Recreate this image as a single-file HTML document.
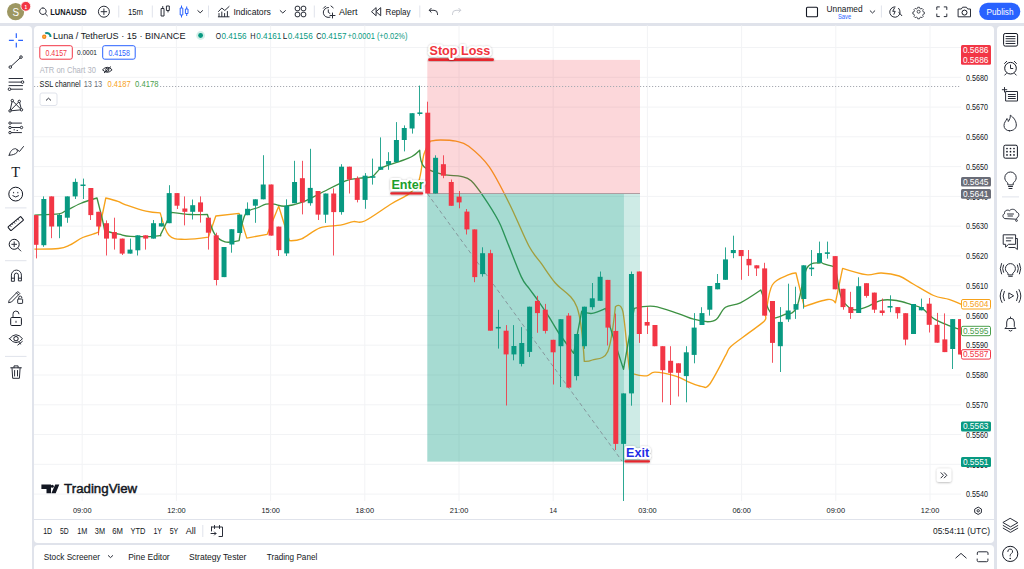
<!DOCTYPE html>
<html><head><meta charset="utf-8"><style>
*{margin:0;padding:0;box-sizing:border-box}
html,body{width:1024px;height:569px;overflow:hidden;background:#e0e3eb;font-family:"Liberation Sans",sans-serif;color:#131722}
.abs{position:absolute}
.panel{position:absolute;background:#fff}
.t{position:absolute;white-space:nowrap;line-height:1}
</style></head><body>
<div class="panel" style="left:0;top:0;width:1024px;height:23px"></div>
<div class="panel" style="left:0;top:25.5px;width:32px;height:544px;border-radius:0 4px 0 0"></div>
<div class="panel" style="left:34px;top:25.5px;width:960px;height:517px;border-radius:4px"></div>
<div class="abs" style="left:34px;top:519px;width:960px;height:1px;background:#e0e3eb"></div>
<div class="panel" style="left:34px;top:545px;width:960px;height:30px;border-radius:4px"></div>
<div class="panel" style="left:997px;top:25.5px;width:27px;height:544px;border-radius:4px 0 0 0"></div>
<svg class="abs" style="left:0;top:0" width="1024" height="569" viewBox="0 0 1024 569">
<defs><filter id="sh" x="-20%" y="-40%" width="140%" height="180%"><feDropShadow dx="0" dy="0.5" stdDeviation="0.8" flood-color="#000" flood-opacity="0.35"/></filter></defs>
<defs><clipPath id="pane"><rect x="34" y="25.5" width="927" height="475.5"/></clipPath></defs>
<g clip-path="url(#pane)">
<line x1="34" y1="17.8" x2="961" y2="17.8" stroke="#f2f3f5" stroke-width="1"/>
<line x1="34" y1="47.5" x2="961" y2="47.5" stroke="#f2f3f5" stroke-width="1"/>
<line x1="34" y1="77.3" x2="961" y2="77.3" stroke="#f2f3f5" stroke-width="1"/>
<line x1="34" y1="107.1" x2="961" y2="107.1" stroke="#f2f3f5" stroke-width="1"/>
<line x1="34" y1="136.8" x2="961" y2="136.8" stroke="#f2f3f5" stroke-width="1"/>
<line x1="34" y1="166.6" x2="961" y2="166.6" stroke="#f2f3f5" stroke-width="1"/>
<line x1="34" y1="196.4" x2="961" y2="196.4" stroke="#f2f3f5" stroke-width="1"/>
<line x1="34" y1="226.2" x2="961" y2="226.2" stroke="#f2f3f5" stroke-width="1"/>
<line x1="34" y1="255.9" x2="961" y2="255.9" stroke="#f2f3f5" stroke-width="1"/>
<line x1="34" y1="285.7" x2="961" y2="285.7" stroke="#f2f3f5" stroke-width="1"/>
<line x1="34" y1="315.5" x2="961" y2="315.5" stroke="#f2f3f5" stroke-width="1"/>
<line x1="34" y1="345.2" x2="961" y2="345.2" stroke="#f2f3f5" stroke-width="1"/>
<line x1="34" y1="375.0" x2="961" y2="375.0" stroke="#f2f3f5" stroke-width="1"/>
<line x1="34" y1="404.8" x2="961" y2="404.8" stroke="#f2f3f5" stroke-width="1"/>
<line x1="34" y1="434.5" x2="961" y2="434.5" stroke="#f2f3f5" stroke-width="1"/>
<line x1="34" y1="464.3" x2="961" y2="464.3" stroke="#f2f3f5" stroke-width="1"/>
<line x1="34" y1="494.1" x2="961" y2="494.1" stroke="#f2f3f5" stroke-width="1"/>
<line x1="82.2" y1="25" x2="82.2" y2="501" stroke="#f2f3f5" stroke-width="1"/>
<line x1="176.4" y1="25" x2="176.4" y2="501" stroke="#f2f3f5" stroke-width="1"/>
<line x1="270.6" y1="25" x2="270.6" y2="501" stroke="#f2f3f5" stroke-width="1"/>
<line x1="364.8" y1="25" x2="364.8" y2="501" stroke="#f2f3f5" stroke-width="1"/>
<line x1="459.0" y1="25" x2="459.0" y2="501" stroke="#f2f3f5" stroke-width="1"/>
<line x1="553.2" y1="25" x2="553.2" y2="501" stroke="#f2f3f5" stroke-width="1"/>
<line x1="647.4" y1="25" x2="647.4" y2="501" stroke="#f2f3f5" stroke-width="1"/>
<line x1="741.6" y1="25" x2="741.6" y2="501" stroke="#f2f3f5" stroke-width="1"/>
<line x1="835.8" y1="25" x2="835.8" y2="501" stroke="#f2f3f5" stroke-width="1"/>
<line x1="930.0" y1="25" x2="930.0" y2="501" stroke="#f2f3f5" stroke-width="1"/>
<path d="M34.4 249.2 C38.4 249.1 52.7 249.2 58.6 248.5 C64.5 247.8 65.6 247.0 69.6 245.2 C73.6 243.4 78.1 239.6 82.7 237.5 C87.3 235.4 94.2 234.2 97.0 232.7 C99.8 231.2 97.7 234.5 99.2 228.7 C100.7 222.9 105.8 198.0 105.8 198.0 C105.8 198.0 114.7 200.2 117.9 201.3 C121.1 202.4 120.3 202.9 125.0 204.6 C129.7 206.2 140.0 209.8 145.9 211.2 C151.8 212.6 160.2 212.9 160.2 212.9 C160.2 212.9 165.0 230.9 169.0 235.3 C173.0 239.7 177.7 239.0 184.3 239.3 C190.9 239.6 208.5 237.1 208.5 237.1 C208.5 237.1 215.8 216.0 215.8 216.0 C215.8 216.0 239.1 213.4 239.1 213.4 C239.1 213.4 246.8 238.1 246.8 238.1 C246.8 238.1 267.2 234.3 267.2 234.3 C267.2 234.3 278.7 206.2 278.7 206.2 C278.7 206.2 289.4 240.7 289.4 240.7 C289.4 240.7 296.5 241.0 301.6 238.9 C306.7 236.8 313.5 230.2 320.0 227.9 C326.5 225.6 334.9 226.2 340.5 225.2 C346.1 224.1 349.3 222.3 353.3 221.6 C357.3 220.9 358.3 224.0 364.7 221.0 C371.1 218.0 384.1 208.3 391.5 203.7 C398.9 199.1 404.8 197.3 409.4 193.5 C414.0 189.7 416.5 187.4 418.9 180.8 C421.3 174.2 422.1 160.6 424.0 154.0 C425.9 147.4 430.4 141.2 430.4 141.2 C430.4 141.2 436.4 140.0 440.6 140.0 C444.9 140.0 451.2 140.1 455.9 141.2 C460.6 142.2 463.2 142.1 468.7 146.3 C474.2 150.6 482.2 156.9 489.1 166.7 C496.0 176.5 503.4 191.8 510.0 205.0 C516.6 218.2 523.6 236.2 528.9 246.0 C534.2 255.8 537.2 257.7 541.6 263.9 C546.0 270.1 549.4 275.8 555.3 283.0 C561.2 290.2 572.2 294.1 577.0 307.2 C581.8 320.3 584.3 361.4 584.3 361.4 C584.3 361.4 588.4 361.7 592.3 360.0 C596.2 358.3 603.9 360.3 607.8 351.4 C611.6 342.5 615.4 306.8 615.4 306.8 C615.4 306.8 620.5 301.2 622.9 311.7 C625.2 322.2 627.6 359.6 629.5 370.0 C631.4 380.4 631.4 373.2 634.3 374.2 C637.1 375.2 643.1 376.1 646.6 375.8 C650.1 375.5 650.1 372.1 655.0 372.2 C659.9 372.2 669.9 374.4 675.7 376.1 C681.5 377.8 685.5 380.7 689.7 382.4 C694.0 384.1 697.9 385.9 701.2 386.3 C704.5 386.7 705.4 389.6 709.4 384.5 C713.4 379.4 722.0 362.0 725.5 355.7 C729.0 349.4 726.8 350.4 730.6 346.7 C734.4 343.0 742.4 337.7 748.1 333.4 C753.8 329.1 761.6 324.1 764.6 320.7 C767.6 317.3 764.6 318.9 765.9 313.0 C767.2 307.1 768.5 291.4 772.3 285.0 C776.1 278.6 784.9 276.7 788.9 274.7 C792.9 272.7 796.0 273.0 796.0 273.0 C796.0 273.0 804.2 306.6 804.2 306.6 C804.2 306.6 822.6 300.1 827.8 299.5 C833.0 298.9 835.4 302.8 835.4 302.8 C835.4 302.8 842.6 268.4 842.6 268.4 C842.6 268.4 859.5 273.9 866.0 274.7 C872.5 275.5 875.8 272.8 881.3 273.0 C886.8 273.2 893.9 274.2 899.2 276.0 C904.5 277.8 907.5 280.8 913.2 284.0 C918.9 287.2 927.7 292.9 933.6 295.5 C939.5 298.1 944.2 297.8 948.9 299.3 C953.6 300.8 959.5 303.5 961.6 304.4" fill="none" stroke="#f7a21b" stroke-width="1.35" stroke-linejoin="round"/>
<path d="M34.4 215.1 C38.4 214.9 53.5 214.5 58.6 213.8 C63.7 213.2 61.6 212.9 65.2 211.2 C68.9 209.5 75.2 205.7 80.5 203.5 C85.8 201.3 97.0 198.0 97.0 198.0 C97.0 198.0 101.2 214.5 102.5 220.0 C103.8 225.5 104.7 231.0 104.7 231.0 C104.7 231.0 114.7 233.3 119.0 234.2 C123.3 235.1 124.0 236.1 130.5 236.4 C137.0 236.7 152.9 236.4 158.0 235.8 C163.1 235.2 159.1 237.0 161.3 233.1 C163.5 229.2 171.2 212.3 171.2 212.3 C171.2 212.3 185.0 214.1 191.0 214.5 C197.0 214.9 207.4 214.5 207.4 214.5 C207.4 214.5 211.8 229.6 214.7 234.2 C217.6 238.8 220.9 240.8 225.0 241.9 C229.1 243.0 239.1 240.7 239.1 240.7 C239.1 240.7 242.3 219.4 245.5 213.9 C248.7 208.4 254.9 209.1 258.3 207.5 C261.7 205.9 263.3 204.8 265.9 204.2 C268.5 203.6 270.8 203.9 274.0 204.2 C277.2 204.5 280.4 206.5 285.0 206.2 C289.6 205.9 295.8 204.5 301.6 202.4 C307.4 200.3 312.7 197.1 320.0 193.5 C327.3 189.9 339.0 183.4 345.6 180.8 C352.2 178.2 355.1 178.9 359.6 178.2 C364.1 177.5 368.8 178.1 372.4 176.4 C376.0 174.7 376.8 170.5 381.3 168.0 C385.8 165.5 394.1 163.5 399.2 161.6 C404.3 159.7 408.6 158.4 412.0 156.5 C415.4 154.6 419.7 150.2 419.7 150.2 C419.7 150.2 420.1 162.7 424.0 166.7 C427.9 170.7 437.0 172.8 443.2 174.4 C449.4 176.0 456.3 175.3 461.0 176.4 C465.7 177.5 467.4 177.3 471.2 180.8 C475.0 184.3 479.5 190.7 484.0 197.3 C488.5 203.9 494.7 213.7 498.3 220.5 C501.9 227.3 502.1 229.1 505.9 238.4 C509.7 247.8 517.4 268.3 521.2 276.6 C525.0 284.9 525.9 283.9 528.9 288.1 C531.9 292.4 535.7 297.2 539.1 302.1 C542.5 307.0 546.0 312.2 549.3 317.4 C552.6 322.6 555.0 327.5 559.1 333.5 C563.2 339.5 573.7 353.3 573.7 353.3 C573.7 353.3 581.7 311.1 581.7 311.1 C581.7 311.1 588.0 313.8 592.0 313.4 C596.0 312.9 605.7 308.4 605.7 308.4 C605.7 308.4 607.2 317.0 610.2 327.1 C613.2 337.2 623.5 369.3 623.5 369.3 C623.5 369.3 634.2 308.4 634.2 308.4 C634.2 308.4 646.6 305.5 654.0 306.4 C661.4 307.3 671.7 311.5 678.3 313.6 C684.9 315.7 688.7 317.9 693.6 319.2 C698.5 320.5 703.8 321.7 707.6 321.7 C711.4 321.7 713.5 321.6 716.5 319.2 C719.5 316.8 721.5 309.9 725.5 307.2 C729.5 304.5 734.5 305.7 740.4 302.8 C746.3 299.9 760.8 290.0 760.8 290.0 C760.8 290.0 766.2 304.5 768.5 309.2 C770.8 313.9 774.8 318.1 774.8 318.1 C774.8 318.1 780.2 316.5 783.8 314.8 C787.4 313.1 792.7 315.6 796.5 307.9 C800.3 300.2 802.8 275.9 806.7 268.4 C810.6 260.9 817.1 263.6 820.0 262.8 C822.9 262.0 821.3 263.1 823.9 263.8 C826.5 264.5 835.4 267.1 835.4 267.1 C835.4 267.1 839.0 289.2 840.5 295.2 C842.0 301.1 842.2 300.4 844.3 302.8 C846.4 305.2 849.7 309.0 853.3 309.7 C856.9 310.4 861.3 308.7 866.0 307.1 C870.7 305.5 876.2 301.4 881.3 300.3 C886.4 299.2 891.7 299.8 896.6 300.5 C901.5 301.2 906.4 303.1 910.6 304.4 C914.9 305.7 918.3 305.9 922.1 308.3 C925.9 310.7 929.1 315.6 933.6 318.5 C938.1 321.4 944.2 323.7 948.9 325.6 C953.6 327.5 959.5 329.3 961.6 330.0" fill="none" stroke="#3d9142" stroke-width="1.35" stroke-linejoin="round"/>
<rect x="427.3" y="59.9" width="212.7" height="133.6" fill="rgba(242,54,69,0.2)"/>
<rect x="427.3" y="193.5" width="212.7" height="268.1" fill="rgba(8,153,129,0.2)"/>
<rect x="427.3" y="193.5" width="196.6" height="268.1" fill="rgba(8,153,129,0.2)"/>
<line x1="427.3" y1="193.5" x2="640" y2="193.5" stroke="#b09ba0" stroke-width="1"/>
<line x1="34" y1="86.5" x2="961" y2="86.5" stroke="#a8abb3" stroke-width="1" stroke-dasharray="1.2 1.8"/>
<line x1="427.3" y1="193.5" x2="622" y2="461" stroke="#787b86" stroke-width="1" stroke-dasharray="4 3" opacity="0.7"/>
<line x1="36.50" y1="215.0" x2="36.50" y2="258.4" stroke="#f23645" stroke-width="1" opacity="0.85"/>
<rect x="33.50" y="215.1" width="5.0" height="29.7" fill="#f23645"/>
<line x1="43.50" y1="196.4" x2="43.50" y2="246.8" stroke="#089981" stroke-width="1" opacity="0.85"/>
<rect x="41.34" y="199.0" width="5.0" height="46.2" fill="#089981"/>
<line x1="51.50" y1="196.4" x2="51.50" y2="238.2" stroke="#f23645" stroke-width="1" opacity="0.85"/>
<rect x="49.17" y="196.4" width="5.0" height="30.1" fill="#f23645"/>
<line x1="59.50" y1="214.0" x2="59.50" y2="238.2" stroke="#089981" stroke-width="1" opacity="0.85"/>
<rect x="57.00" y="214.9" width="5.0" height="11.6" fill="#089981"/>
<line x1="67.50" y1="196.4" x2="67.50" y2="222.8" stroke="#089981" stroke-width="1" opacity="0.85"/>
<rect x="64.84" y="196.4" width="5.0" height="21.3" fill="#089981"/>
<line x1="75.50" y1="178.6" x2="75.50" y2="199.0" stroke="#089981" stroke-width="1" opacity="0.85"/>
<rect x="72.67" y="181.9" width="5.0" height="14.5" fill="#089981"/>
<line x1="83.50" y1="178.6" x2="83.50" y2="199.0" stroke="#089981" stroke-width="1" opacity="0.85"/>
<rect x="80.51" y="184.5" width="5.0" height="1.5" fill="#089981"/>
<line x1="90.50" y1="188.0" x2="90.50" y2="220.0" stroke="#f23645" stroke-width="1" opacity="0.85"/>
<rect x="88.34" y="188.0" width="5.0" height="27.1" fill="#f23645"/>
<line x1="98.50" y1="211.8" x2="98.50" y2="235.3" stroke="#f23645" stroke-width="1" opacity="0.85"/>
<rect x="96.18" y="211.8" width="5.0" height="14.7" fill="#f23645"/>
<line x1="106.50" y1="220.4" x2="106.50" y2="255.5" stroke="#f23645" stroke-width="1" opacity="0.85"/>
<rect x="104.02" y="223.2" width="5.0" height="15.4" fill="#f23645"/>
<line x1="114.50" y1="217.7" x2="114.50" y2="249.6" stroke="#f23645" stroke-width="1" opacity="0.85"/>
<rect x="111.85" y="232.0" width="5.0" height="6.6" fill="#f23645"/>
<line x1="122.50" y1="238.6" x2="122.50" y2="255.0" stroke="#f23645" stroke-width="1" opacity="0.85"/>
<rect x="119.69" y="238.6" width="5.0" height="15.0" fill="#f23645"/>
<line x1="130.50" y1="238.6" x2="130.50" y2="253.6" stroke="#089981" stroke-width="1" opacity="0.85"/>
<rect x="127.52" y="249.6" width="5.0" height="4.0" fill="#089981"/>
<line x1="137.50" y1="235.3" x2="137.50" y2="255.5" stroke="#089981" stroke-width="1" opacity="0.85"/>
<rect x="135.36" y="235.3" width="5.0" height="15.0" fill="#089981"/>
<line x1="145.50" y1="235.3" x2="145.50" y2="249.6" stroke="#f23645" stroke-width="1" opacity="0.85"/>
<rect x="143.19" y="235.3" width="5.0" height="3.3" fill="#f23645"/>
<line x1="153.50" y1="220.0" x2="153.50" y2="238.6" stroke="#089981" stroke-width="1" opacity="0.85"/>
<rect x="151.03" y="223.2" width="5.0" height="15.4" fill="#089981"/>
<line x1="161.50" y1="217.3" x2="161.50" y2="226.5" stroke="#089981" stroke-width="1" opacity="0.85"/>
<rect x="158.86" y="223.2" width="5.0" height="3.3" fill="#089981"/>
<line x1="169.50" y1="185.2" x2="169.50" y2="223.2" stroke="#089981" stroke-width="1" opacity="0.85"/>
<rect x="166.69" y="193.1" width="5.0" height="30.1" fill="#089981"/>
<line x1="177.50" y1="193.1" x2="177.50" y2="209.0" stroke="#f23645" stroke-width="1" opacity="0.85"/>
<rect x="174.53" y="193.1" width="5.0" height="12.6" fill="#f23645"/>
<line x1="184.50" y1="196.4" x2="184.50" y2="225.4" stroke="#f23645" stroke-width="1" opacity="0.85"/>
<rect x="182.37" y="208.5" width="5.0" height="3.3" fill="#f23645"/>
<line x1="192.50" y1="199.5" x2="192.50" y2="219.5" stroke="#089981" stroke-width="1" opacity="0.85"/>
<rect x="190.20" y="205.2" width="5.0" height="6.6" fill="#089981"/>
<line x1="200.50" y1="196.4" x2="200.50" y2="222.6" stroke="#f23645" stroke-width="1" opacity="0.85"/>
<rect x="198.03" y="202.4" width="5.0" height="9.4" fill="#f23645"/>
<line x1="208.50" y1="217.7" x2="208.50" y2="249.6" stroke="#f23645" stroke-width="1" opacity="0.85"/>
<rect x="205.87" y="217.7" width="5.0" height="15.0" fill="#f23645"/>
<line x1="216.50" y1="232.7" x2="216.50" y2="285.4" stroke="#f23645" stroke-width="1" opacity="0.85"/>
<rect x="213.71" y="235.3" width="5.0" height="44.7" fill="#f23645"/>
<line x1="224.50" y1="247.0" x2="224.50" y2="277.1" stroke="#089981" stroke-width="1" opacity="0.85"/>
<rect x="221.54" y="247.0" width="5.0" height="30.1" fill="#089981"/>
<line x1="231.50" y1="229.2" x2="231.50" y2="252.7" stroke="#089981" stroke-width="1" opacity="0.85"/>
<rect x="229.38" y="229.2" width="5.0" height="15.3" fill="#089981"/>
<line x1="239.50" y1="214.6" x2="239.50" y2="233.0" stroke="#089981" stroke-width="1" opacity="0.85"/>
<rect x="237.21" y="214.6" width="5.0" height="18.4" fill="#089981"/>
<line x1="247.50" y1="202.4" x2="247.50" y2="215.2" stroke="#089981" stroke-width="1" opacity="0.85"/>
<rect x="245.04" y="208.8" width="5.0" height="6.4" fill="#089981"/>
<line x1="255.50" y1="199.3" x2="255.50" y2="222.8" stroke="#089981" stroke-width="1" opacity="0.85"/>
<rect x="252.88" y="199.3" width="5.0" height="6.4" fill="#089981"/>
<line x1="263.50" y1="155.2" x2="263.50" y2="199.3" stroke="#089981" stroke-width="1" opacity="0.85"/>
<rect x="260.72" y="184.5" width="5.0" height="14.8" fill="#089981"/>
<line x1="271.50" y1="184.5" x2="271.50" y2="235.6" stroke="#f23645" stroke-width="1" opacity="0.85"/>
<rect x="268.55" y="184.5" width="5.0" height="51.1" fill="#f23645"/>
<line x1="278.50" y1="226.6" x2="278.50" y2="256.0" stroke="#f23645" stroke-width="1" opacity="0.85"/>
<rect x="276.38" y="226.6" width="5.0" height="23.5" fill="#f23645"/>
<line x1="286.50" y1="199.3" x2="286.50" y2="256.0" stroke="#089981" stroke-width="1" opacity="0.85"/>
<rect x="284.22" y="205.7" width="5.0" height="47.7" fill="#089981"/>
<line x1="294.50" y1="160.8" x2="294.50" y2="203.2" stroke="#089981" stroke-width="1" opacity="0.85"/>
<rect x="292.06" y="182.0" width="5.0" height="21.2" fill="#089981"/>
<line x1="302.50" y1="160.8" x2="302.50" y2="214.4" stroke="#f23645" stroke-width="1" opacity="0.85"/>
<rect x="299.89" y="178.2" width="5.0" height="24.2" fill="#f23645"/>
<line x1="310.50" y1="148.8" x2="310.50" y2="205.7" stroke="#089981" stroke-width="1" opacity="0.85"/>
<rect x="307.73" y="187.9" width="5.0" height="15.3" fill="#089981"/>
<line x1="318.50" y1="191.0" x2="318.50" y2="220.0" stroke="#f23645" stroke-width="1" opacity="0.85"/>
<rect x="315.56" y="191.0" width="5.0" height="23.6" fill="#f23645"/>
<line x1="325.50" y1="193.5" x2="325.50" y2="222.9" stroke="#089981" stroke-width="1" opacity="0.85"/>
<rect x="323.39" y="193.5" width="5.0" height="21.2" fill="#089981"/>
<line x1="333.50" y1="188.4" x2="333.50" y2="255.5" stroke="#f23645" stroke-width="1" opacity="0.85"/>
<rect x="331.23" y="193.5" width="5.0" height="18.6" fill="#f23645"/>
<line x1="341.50" y1="164.2" x2="341.50" y2="214.7" stroke="#089981" stroke-width="1" opacity="0.85"/>
<rect x="339.06" y="166.7" width="5.0" height="45.4" fill="#089981"/>
<line x1="349.50" y1="166.7" x2="349.50" y2="193.5" stroke="#f23645" stroke-width="1" opacity="0.85"/>
<rect x="346.90" y="166.7" width="5.0" height="12.8" fill="#f23645"/>
<line x1="357.50" y1="176.4" x2="357.50" y2="202.4" stroke="#f23645" stroke-width="1" opacity="0.85"/>
<rect x="354.74" y="178.2" width="5.0" height="21.7" fill="#f23645"/>
<line x1="365.50" y1="173.1" x2="365.50" y2="208.8" stroke="#089981" stroke-width="1" opacity="0.85"/>
<rect x="362.57" y="175.7" width="5.0" height="24.2" fill="#089981"/>
<line x1="372.50" y1="158.6" x2="372.50" y2="184.6" stroke="#089981" stroke-width="1" opacity="0.85"/>
<rect x="370.40" y="176.2" width="5.0" height="1.6" fill="#089981"/>
<line x1="380.50" y1="137.4" x2="380.50" y2="169.8" stroke="#089981" stroke-width="1" opacity="0.85"/>
<rect x="378.24" y="166.7" width="5.0" height="3.1" fill="#089981"/>
<line x1="388.50" y1="152.2" x2="388.50" y2="169.8" stroke="#089981" stroke-width="1" opacity="0.85"/>
<rect x="386.07" y="161.1" width="5.0" height="3.6" fill="#089981"/>
<line x1="396.50" y1="122.1" x2="396.50" y2="162.1" stroke="#089981" stroke-width="1" opacity="0.85"/>
<rect x="393.91" y="140.0" width="5.0" height="22.1" fill="#089981"/>
<line x1="404.50" y1="125.4" x2="404.50" y2="151.4" stroke="#089981" stroke-width="1" opacity="0.85"/>
<rect x="401.75" y="128.0" width="5.0" height="12.0" fill="#089981"/>
<line x1="412.50" y1="113.2" x2="412.50" y2="133.6" stroke="#089981" stroke-width="1" opacity="0.85"/>
<rect x="409.58" y="113.2" width="5.0" height="15.3" fill="#089981"/>
<line x1="419.50" y1="85.6" x2="419.50" y2="115.7" stroke="#089981" stroke-width="1" opacity="0.85"/>
<rect x="417.42" y="112.4" width="5.0" height="1.6" fill="#089981"/>
<line x1="427.50" y1="101.7" x2="427.50" y2="193.5" stroke="#f23645" stroke-width="1" opacity="0.85"/>
<rect x="425.25" y="112.7" width="5.0" height="80.8" fill="#f23645"/>
<line x1="435.50" y1="155.3" x2="435.50" y2="193.5" stroke="#089981" stroke-width="1" opacity="0.85"/>
<rect x="433.08" y="157.8" width="5.0" height="35.7" fill="#089981"/>
<line x1="443.50" y1="155.3" x2="443.50" y2="178.2" stroke="#f23645" stroke-width="1" opacity="0.85"/>
<rect x="440.92" y="164.2" width="5.0" height="11.5" fill="#f23645"/>
<line x1="451.50" y1="179.5" x2="451.50" y2="205.8" stroke="#f23645" stroke-width="1" opacity="0.85"/>
<rect x="448.75" y="182.0" width="5.0" height="23.8" fill="#f23645"/>
<line x1="459.50" y1="191.0" x2="459.50" y2="208.3" stroke="#f23645" stroke-width="1" opacity="0.85"/>
<rect x="456.59" y="196.6" width="5.0" height="5.8" fill="#f23645"/>
<line x1="466.50" y1="209.0" x2="466.50" y2="234.5" stroke="#f23645" stroke-width="1" opacity="0.85"/>
<rect x="464.43" y="211.6" width="5.0" height="17.8" fill="#f23645"/>
<line x1="474.50" y1="229.4" x2="474.50" y2="282.2" stroke="#f23645" stroke-width="1" opacity="0.85"/>
<rect x="472.26" y="229.4" width="5.0" height="47.7" fill="#f23645"/>
<line x1="482.50" y1="247.3" x2="482.50" y2="276.6" stroke="#089981" stroke-width="1" opacity="0.85"/>
<rect x="480.09" y="253.2" width="5.0" height="20.9" fill="#089981"/>
<line x1="490.50" y1="249.8" x2="490.50" y2="330.7" stroke="#f23645" stroke-width="1" opacity="0.85"/>
<rect x="487.93" y="253.2" width="5.0" height="77.5" fill="#f23645"/>
<line x1="498.50" y1="309.8" x2="498.50" y2="348.6" stroke="#089981" stroke-width="1" opacity="0.85"/>
<rect x="495.76" y="326.9" width="5.0" height="1.6" fill="#089981"/>
<line x1="506.50" y1="325.1" x2="506.50" y2="405.5" stroke="#f23645" stroke-width="1" opacity="0.85"/>
<rect x="503.60" y="330.7" width="5.0" height="23.7" fill="#f23645"/>
<line x1="513.50" y1="325.1" x2="513.50" y2="360.3" stroke="#089981" stroke-width="1" opacity="0.85"/>
<rect x="511.43" y="346.0" width="5.0" height="8.4" fill="#089981"/>
<line x1="521.50" y1="327.1" x2="521.50" y2="366.4" stroke="#089981" stroke-width="1" opacity="0.85"/>
<rect x="519.27" y="343.0" width="5.0" height="20.9" fill="#089981"/>
<line x1="529.50" y1="306.7" x2="529.50" y2="357.0" stroke="#089981" stroke-width="1" opacity="0.85"/>
<rect x="527.11" y="306.7" width="5.0" height="45.2" fill="#089981"/>
<line x1="537.50" y1="295.8" x2="537.50" y2="332.8" stroke="#f23645" stroke-width="1" opacity="0.85"/>
<rect x="534.94" y="300.9" width="5.0" height="12.2" fill="#f23645"/>
<line x1="545.50" y1="303.9" x2="545.50" y2="333.5" stroke="#f23645" stroke-width="1" opacity="0.85"/>
<rect x="542.77" y="309.7" width="5.0" height="21.2" fill="#f23645"/>
<line x1="553.50" y1="339.8" x2="553.50" y2="384.5" stroke="#f23645" stroke-width="1" opacity="0.85"/>
<rect x="550.61" y="339.8" width="5.0" height="12.5" fill="#f23645"/>
<line x1="560.50" y1="319.2" x2="560.50" y2="387.0" stroke="#089981" stroke-width="1" opacity="0.85"/>
<rect x="558.45" y="319.2" width="5.0" height="27.0" fill="#089981"/>
<line x1="568.50" y1="313.1" x2="568.50" y2="387.6" stroke="#f23645" stroke-width="1" opacity="0.85"/>
<rect x="566.28" y="315.6" width="5.0" height="72.0" fill="#f23645"/>
<line x1="576.50" y1="334.0" x2="576.50" y2="380.4" stroke="#089981" stroke-width="1" opacity="0.85"/>
<rect x="574.12" y="334.0" width="5.0" height="42.1" fill="#089981"/>
<line x1="584.50" y1="306.7" x2="584.50" y2="348.8" stroke="#089981" stroke-width="1" opacity="0.85"/>
<rect x="581.95" y="306.7" width="5.0" height="39.5" fill="#089981"/>
<line x1="592.50" y1="283.0" x2="592.50" y2="309.7" stroke="#089981" stroke-width="1" opacity="0.85"/>
<rect x="589.78" y="298.3" width="5.0" height="8.9" fill="#089981"/>
<line x1="600.50" y1="271.5" x2="600.50" y2="300.8" stroke="#089981" stroke-width="1" opacity="0.85"/>
<rect x="597.62" y="276.8" width="5.0" height="24.0" fill="#089981"/>
<line x1="607.50" y1="279.9" x2="607.50" y2="345.5" stroke="#f23645" stroke-width="1" opacity="0.85"/>
<rect x="605.46" y="279.9" width="5.0" height="47.7" fill="#f23645"/>
<line x1="615.50" y1="313.6" x2="615.50" y2="450.0" stroke="#f23645" stroke-width="1" opacity="0.85"/>
<rect x="613.29" y="330.9" width="5.0" height="113.0" fill="#f23645"/>
<line x1="623.50" y1="393.4" x2="623.50" y2="501.8" stroke="#089981" stroke-width="1" opacity="0.85"/>
<rect x="621.12" y="393.4" width="5.0" height="50.5" fill="#089981"/>
<line x1="631.50" y1="271.5" x2="631.50" y2="405.7" stroke="#089981" stroke-width="1" opacity="0.85"/>
<rect x="628.96" y="274.0" width="5.0" height="119.4" fill="#089981"/>
<line x1="639.50" y1="271.5" x2="639.50" y2="342.9" stroke="#f23645" stroke-width="1" opacity="0.85"/>
<rect x="636.79" y="271.5" width="5.0" height="62.5" fill="#f23645"/>
<line x1="647.50" y1="307.2" x2="647.50" y2="334.0" stroke="#f23645" stroke-width="1" opacity="0.85"/>
<rect x="644.63" y="322.0" width="5.0" height="3.6" fill="#f23645"/>
<line x1="654.50" y1="325.0" x2="654.50" y2="346.2" stroke="#f23645" stroke-width="1" opacity="0.85"/>
<rect x="652.47" y="325.0" width="5.0" height="21.2" fill="#f23645"/>
<line x1="662.50" y1="346.2" x2="662.50" y2="402.3" stroke="#f23645" stroke-width="1" opacity="0.85"/>
<rect x="660.30" y="346.2" width="5.0" height="24.0" fill="#f23645"/>
<line x1="670.50" y1="346.2" x2="670.50" y2="405.0" stroke="#f23645" stroke-width="1" opacity="0.85"/>
<rect x="668.13" y="360.8" width="5.0" height="12.0" fill="#f23645"/>
<line x1="678.50" y1="363.3" x2="678.50" y2="396.5" stroke="#f23645" stroke-width="1" opacity="0.85"/>
<rect x="675.97" y="363.3" width="5.0" height="9.5" fill="#f23645"/>
<line x1="686.50" y1="346.2" x2="686.50" y2="402.3" stroke="#089981" stroke-width="1" opacity="0.85"/>
<rect x="683.80" y="352.3" width="5.0" height="23.8" fill="#089981"/>
<line x1="694.50" y1="313.1" x2="694.50" y2="363.3" stroke="#089981" stroke-width="1" opacity="0.85"/>
<rect x="691.64" y="327.6" width="5.0" height="27.3" fill="#089981"/>
<line x1="701.50" y1="307.2" x2="701.50" y2="325.0" stroke="#089981" stroke-width="1" opacity="0.85"/>
<rect x="699.48" y="313.1" width="5.0" height="11.9" fill="#089981"/>
<line x1="709.50" y1="286.0" x2="709.50" y2="315.6" stroke="#089981" stroke-width="1" opacity="0.85"/>
<rect x="707.31" y="286.0" width="5.0" height="23.7" fill="#089981"/>
<line x1="717.50" y1="274.0" x2="717.50" y2="289.3" stroke="#089981" stroke-width="1" opacity="0.85"/>
<rect x="715.14" y="283.0" width="5.0" height="6.3" fill="#089981"/>
<line x1="725.50" y1="247.4" x2="725.50" y2="279.8" stroke="#089981" stroke-width="1" opacity="0.85"/>
<rect x="722.98" y="259.4" width="5.0" height="20.4" fill="#089981"/>
<line x1="733.50" y1="235.7" x2="733.50" y2="258.2" stroke="#089981" stroke-width="1" opacity="0.85"/>
<rect x="730.81" y="250.0" width="5.0" height="3.1" fill="#089981"/>
<line x1="741.50" y1="250.0" x2="741.50" y2="279.8" stroke="#f23645" stroke-width="1" opacity="0.85"/>
<rect x="738.65" y="250.0" width="5.0" height="6.1" fill="#f23645"/>
<line x1="748.50" y1="250.0" x2="748.50" y2="276.0" stroke="#f23645" stroke-width="1" opacity="0.85"/>
<rect x="746.49" y="258.9" width="5.0" height="6.4" fill="#f23645"/>
<line x1="756.50" y1="265.3" x2="756.50" y2="276.0" stroke="#f23645" stroke-width="1" opacity="0.85"/>
<rect x="754.32" y="265.3" width="5.0" height="3.1" fill="#f23645"/>
<line x1="764.50" y1="262.8" x2="764.50" y2="315.6" stroke="#f23645" stroke-width="1" opacity="0.85"/>
<rect x="762.15" y="268.4" width="5.0" height="47.2" fill="#f23645"/>
<line x1="772.50" y1="301.0" x2="772.50" y2="362.8" stroke="#f23645" stroke-width="1" opacity="0.85"/>
<rect x="769.99" y="301.0" width="5.0" height="41.9" fill="#f23645"/>
<line x1="780.50" y1="307.1" x2="780.50" y2="372.0" stroke="#089981" stroke-width="1" opacity="0.85"/>
<rect x="777.83" y="321.9" width="5.0" height="24.3" fill="#089981"/>
<line x1="788.50" y1="283.7" x2="788.50" y2="321.9" stroke="#089981" stroke-width="1" opacity="0.85"/>
<rect x="785.66" y="310.5" width="5.0" height="8.9" fill="#089981"/>
<line x1="795.50" y1="286.7" x2="795.50" y2="318.9" stroke="#089981" stroke-width="1" opacity="0.85"/>
<rect x="793.50" y="304.1" width="5.0" height="5.6" fill="#089981"/>
<line x1="803.50" y1="265.3" x2="803.50" y2="308.7" stroke="#089981" stroke-width="1" opacity="0.85"/>
<rect x="801.33" y="265.3" width="5.0" height="33.7" fill="#089981"/>
<line x1="811.50" y1="250.0" x2="811.50" y2="276.0" stroke="#089981" stroke-width="1" opacity="0.85"/>
<rect x="809.16" y="267.6" width="5.0" height="1.6" fill="#089981"/>
<line x1="819.50" y1="241.6" x2="819.50" y2="262.8" stroke="#089981" stroke-width="1" opacity="0.85"/>
<rect x="817.00" y="253.1" width="5.0" height="9.7" fill="#089981"/>
<line x1="827.50" y1="241.6" x2="827.50" y2="258.7" stroke="#089981" stroke-width="1" opacity="0.85"/>
<rect x="824.84" y="252.3" width="5.0" height="1.6" fill="#089981"/>
<line x1="835.50" y1="256.1" x2="835.50" y2="289.3" stroke="#f23645" stroke-width="1" opacity="0.85"/>
<rect x="832.67" y="256.1" width="5.0" height="33.2" fill="#f23645"/>
<line x1="843.50" y1="288.8" x2="843.50" y2="309.7" stroke="#f23645" stroke-width="1" opacity="0.85"/>
<rect x="840.50" y="288.8" width="5.0" height="18.3" fill="#f23645"/>
<line x1="850.50" y1="291.8" x2="850.50" y2="318.9" stroke="#f23645" stroke-width="1" opacity="0.85"/>
<rect x="848.34" y="307.1" width="5.0" height="5.9" fill="#f23645"/>
<line x1="858.50" y1="277.3" x2="858.50" y2="313.0" stroke="#089981" stroke-width="1" opacity="0.85"/>
<rect x="856.17" y="286.2" width="5.0" height="26.8" fill="#089981"/>
<line x1="866.50" y1="283.2" x2="866.50" y2="297.7" stroke="#f23645" stroke-width="1" opacity="0.85"/>
<rect x="864.01" y="283.2" width="5.0" height="12.7" fill="#f23645"/>
<line x1="874.50" y1="292.6" x2="874.50" y2="313.0" stroke="#f23645" stroke-width="1" opacity="0.85"/>
<rect x="871.85" y="292.6" width="5.0" height="17.1" fill="#f23645"/>
<line x1="882.50" y1="298.5" x2="882.50" y2="315.6" stroke="#f23645" stroke-width="1" opacity="0.85"/>
<rect x="879.68" y="310.5" width="5.0" height="2.5" fill="#f23645"/>
<line x1="890.50" y1="295.3" x2="890.50" y2="312.2" stroke="#089981" stroke-width="1" opacity="0.85"/>
<rect x="887.51" y="306.0" width="5.0" height="1.6" fill="#089981"/>
<line x1="897.50" y1="307.1" x2="897.50" y2="318.7" stroke="#f23645" stroke-width="1" opacity="0.85"/>
<rect x="895.35" y="307.1" width="5.0" height="6.1" fill="#f23645"/>
<line x1="905.50" y1="313.2" x2="905.50" y2="345.3" stroke="#f23645" stroke-width="1" opacity="0.85"/>
<rect x="903.18" y="313.2" width="5.0" height="26.4" fill="#f23645"/>
<line x1="913.50" y1="304.0" x2="913.50" y2="334.0" stroke="#089981" stroke-width="1" opacity="0.85"/>
<rect x="911.02" y="304.0" width="5.0" height="30.0" fill="#089981"/>
<line x1="921.50" y1="298.6" x2="921.50" y2="310.3" stroke="#089981" stroke-width="1" opacity="0.85"/>
<rect x="918.86" y="307.0" width="5.0" height="3.3" fill="#089981"/>
<line x1="929.50" y1="298.0" x2="929.50" y2="332.5" stroke="#f23645" stroke-width="1" opacity="0.85"/>
<rect x="926.69" y="303.7" width="5.0" height="21.1" fill="#f23645"/>
<line x1="937.50" y1="312.9" x2="937.50" y2="342.7" stroke="#f23645" stroke-width="1" opacity="0.85"/>
<rect x="934.52" y="324.8" width="5.0" height="17.9" fill="#f23645"/>
<line x1="944.50" y1="313.4" x2="944.50" y2="352.1" stroke="#f23645" stroke-width="1" opacity="0.85"/>
<rect x="942.36" y="339.4" width="5.0" height="12.7" fill="#f23645"/>
<line x1="952.50" y1="319.1" x2="952.50" y2="369.0" stroke="#089981" stroke-width="1" opacity="0.85"/>
<rect x="950.20" y="319.1" width="5.0" height="29.9" fill="#089981"/>
<line x1="960.50" y1="319.1" x2="960.50" y2="354.5" stroke="#f23645" stroke-width="1" opacity="0.85"/>
<rect x="958.03" y="319.1" width="5.0" height="35.4" fill="#f23645"/>
</g>
<rect x="428.2" y="58.3" width="65.7" height="2.6" rx="1" fill="#e8262f" filter="url(#sh)"/>
<text x="429.5" y="55" font-family="Liberation Sans" font-weight="bold" font-size="12.6" fill="#fff" stroke="#fff" stroke-width="4" stroke-linejoin="round" filter="url(#sh)">Stop Loss</text>
<text x="429.5" y="55" font-family="Liberation Sans" font-weight="bold" font-size="12.6" fill="#f0333c">Stop Loss</text>
<rect x="390.2" y="192.3" width="33" height="2.3" rx="1" fill="#e8262f" filter="url(#sh)"/>
<text x="391.4" y="189.2" font-family="Liberation Sans" font-weight="bold" font-size="12.6" fill="#fff" stroke="#fff" stroke-width="4" stroke-linejoin="round" filter="url(#sh)">Enter</text>
<text x="391.4" y="189.2" font-family="Liberation Sans" font-weight="bold" font-size="12.6" fill="#1c9e2b">Enter</text>
<rect x="624.4" y="460.3" width="25.6" height="2.2" rx="1" fill="#e8262f" filter="url(#sh)"/>
<text x="626" y="457.2" font-family="Liberation Sans" font-weight="bold" font-size="12.6" fill="#fff" stroke="#fff" stroke-width="4" stroke-linejoin="round" filter="url(#sh)">Exit</text>
<text x="626" y="457.2" font-family="Liberation Sans" font-weight="bold" font-size="12.6" fill="#1f2ee6">Exit</text>
<text x="966" y="80.5" font-family="Liberation Sans" font-size="8.2" fill="#131722" textLength="22" lengthAdjust="spacingAndGlyphs">0.5680</text>
<text x="966" y="110.3" font-family="Liberation Sans" font-size="8.2" fill="#131722" textLength="22" lengthAdjust="spacingAndGlyphs">0.5670</text>
<text x="966" y="140.0" font-family="Liberation Sans" font-size="8.2" fill="#131722" textLength="22" lengthAdjust="spacingAndGlyphs">0.5660</text>
<text x="966" y="169.8" font-family="Liberation Sans" font-size="8.2" fill="#131722" textLength="22" lengthAdjust="spacingAndGlyphs">0.5650</text>
<text x="966" y="199.6" font-family="Liberation Sans" font-size="8.2" fill="#131722" textLength="22" lengthAdjust="spacingAndGlyphs">0.5640</text>
<text x="966" y="229.4" font-family="Liberation Sans" font-size="8.2" fill="#131722" textLength="22" lengthAdjust="spacingAndGlyphs">0.5630</text>
<text x="966" y="259.1" font-family="Liberation Sans" font-size="8.2" fill="#131722" textLength="22" lengthAdjust="spacingAndGlyphs">0.5620</text>
<text x="966" y="288.9" font-family="Liberation Sans" font-size="8.2" fill="#131722" textLength="22" lengthAdjust="spacingAndGlyphs">0.5610</text>
<text x="966" y="318.7" font-family="Liberation Sans" font-size="8.2" fill="#131722" textLength="22" lengthAdjust="spacingAndGlyphs">0.5600</text>
<text x="966" y="348.4" font-family="Liberation Sans" font-size="8.2" fill="#131722" textLength="22" lengthAdjust="spacingAndGlyphs">0.5590</text>
<text x="966" y="378.2" font-family="Liberation Sans" font-size="8.2" fill="#131722" textLength="22" lengthAdjust="spacingAndGlyphs">0.5580</text>
<text x="966" y="408.0" font-family="Liberation Sans" font-size="8.2" fill="#131722" textLength="22" lengthAdjust="spacingAndGlyphs">0.5570</text>
<text x="966" y="437.7" font-family="Liberation Sans" font-size="8.2" fill="#131722" textLength="22" lengthAdjust="spacingAndGlyphs">0.5560</text>
<text x="966" y="467.5" font-family="Liberation Sans" font-size="8.2" fill="#131722" textLength="22" lengthAdjust="spacingAndGlyphs">0.5550</text>
<text x="966" y="497.3" font-family="Liberation Sans" font-size="8.2" fill="#131722" textLength="22" lengthAdjust="spacingAndGlyphs">0.5540</text>
<rect x="961" y="44.9" width="30" height="19.8" rx="1.5" fill="#f23645"/>
<text x="988.5" y="52.7" text-anchor="end" font-family="Liberation Sans" font-size="8.4" fill="#fff">0.5686</text>
<text x="988.5" y="62.6" text-anchor="end" font-family="Liberation Sans" font-size="8.4" fill="#fff">0.5686</text>
<rect x="961" y="177" width="30" height="9.6" rx="1.5" fill="#6a6d78"/>
<text x="988.5" y="184.7" text-anchor="end" font-family="Liberation Sans" font-size="8.4" fill="#fff">0.5645</text>
<rect x="961" y="188.9" width="30" height="9.8" rx="1.5" fill="#6a6d78"/>
<text x="988.5" y="196.7" text-anchor="end" font-family="Liberation Sans" font-size="8.4" fill="#fff">0.5641</text>
<rect x="961.5" y="299.5" width="29" height="9.5" rx="1.5" fill="#fff" stroke="#f7a21b" stroke-width="1"/>
<text x="988.5" y="307.2" text-anchor="end" font-family="Liberation Sans" font-size="8.4" fill="#f7a21b">0.5604</text>
<rect x="961.5" y="326.3" width="29" height="9.4" rx="1.5" fill="#fff" stroke="#4a9e4c" stroke-width="1"/>
<text x="988.5" y="333.9" text-anchor="end" font-family="Liberation Sans" font-size="8.4" fill="#4a9e4c">0.5595</text>
<rect x="961.5" y="349.7" width="29" height="9.4" rx="1.5" fill="#fff" stroke="#f23645" stroke-width="1"/>
<text x="988.5" y="357.3" text-anchor="end" font-family="Liberation Sans" font-size="8.4" fill="#f23645">0.5587</text>
<rect x="961" y="421.5" width="30" height="10" rx="1.5" fill="#089981"/>
<text x="988.5" y="429.4" text-anchor="end" font-family="Liberation Sans" font-size="8.4" fill="#fff">0.5563</text>
<rect x="961" y="457" width="30" height="10" rx="1.5" fill="#089981"/>
<text x="988.5" y="464.9" text-anchor="end" font-family="Liberation Sans" font-size="8.4" fill="#fff">0.5551</text>
<text x="73.0" y="512.8" font-family="Liberation Sans" font-size="8" fill="#131722" textLength="18.5" lengthAdjust="spacingAndGlyphs">09:00</text>
<text x="167.2" y="512.8" font-family="Liberation Sans" font-size="8" fill="#131722" textLength="18.5" lengthAdjust="spacingAndGlyphs">12:00</text>
<text x="261.4" y="512.8" font-family="Liberation Sans" font-size="8" fill="#131722" textLength="18.5" lengthAdjust="spacingAndGlyphs">15:00</text>
<text x="355.6" y="512.8" font-family="Liberation Sans" font-size="8" fill="#131722" textLength="18.5" lengthAdjust="spacingAndGlyphs">18:00</text>
<text x="449.8" y="512.8" font-family="Liberation Sans" font-size="8" fill="#131722" textLength="18.5" lengthAdjust="spacingAndGlyphs">21:00</text>
<text x="549.5" y="512.8" font-family="Liberation Sans" font-size="8" fill="#131722" textLength="7.5" lengthAdjust="spacingAndGlyphs">14</text>
<text x="638.2" y="512.8" font-family="Liberation Sans" font-size="8" fill="#131722" textLength="18.5" lengthAdjust="spacingAndGlyphs">03:00</text>
<text x="732.4" y="512.8" font-family="Liberation Sans" font-size="8" fill="#131722" textLength="18.5" lengthAdjust="spacingAndGlyphs">06:00</text>
<text x="826.6" y="512.8" font-family="Liberation Sans" font-size="8" fill="#131722" textLength="18.5" lengthAdjust="spacingAndGlyphs">09:00</text>
<text x="920.8" y="512.8" font-family="Liberation Sans" font-size="8" fill="#131722" textLength="18.5" lengthAdjust="spacingAndGlyphs">12:00</text>
<circle cx="15.6" cy="11.7" r="8.6" fill="#9d9762"/>
<text x="12.4" y="15.8" font-family="Liberation Sans" font-size="10.5" font-weight="normal" fill="#fff" textLength="6.6" lengthAdjust="spacingAndGlyphs">S</text>
<circle cx="25.8" cy="6.3" r="4.9" fill="#f23645" stroke="#fff" stroke-width="0.8"/>
<text x="24.6" y="8.6" font-family="Liberation Sans" font-size="6" font-weight="bold" fill="#fff" textLength="2.6" lengthAdjust="spacingAndGlyphs">1</text>
<path d="M42.9 7.9 a3.3 3.3 0 1 0 0.01 0 M45.3 13.7 L47.4 15.8" fill="none" stroke="#2a2e39" stroke-width="1" stroke-linecap="round" stroke-linejoin="round" stroke-width="1.2"/>
<text x="50.3" y="14.6" font-family="Liberation Sans" font-size="8.6" font-weight="bold" fill="#131722" textLength="36.4" lengthAdjust="spacingAndGlyphs">LUNAUSD</text>
<circle cx="103.9" cy="11.7" r="5.5" fill="none" stroke="#131722" stroke-width="0.9"/>
<path d="M103.9 8.9 V14.5 M101.1 11.7 H106.7" fill="none" stroke="#2a2e39" stroke-width="1" stroke-linecap="round" stroke-linejoin="round" />
<line x1="118.75" y1="5.5" x2="118.75" y2="17.5" stroke="#e0e3eb" stroke-width="1"/>
<line x1="152.3" y1="5.5" x2="152.3" y2="17.5" stroke="#e0e3eb" stroke-width="1"/>
<line x1="208.5" y1="5.5" x2="208.5" y2="17.5" stroke="#e0e3eb" stroke-width="1"/>
<line x1="314.3" y1="5.5" x2="314.3" y2="17.5" stroke="#e0e3eb" stroke-width="1"/>
<line x1="419.8" y1="5.5" x2="419.8" y2="17.5" stroke="#e0e3eb" stroke-width="1"/>
<line x1="881.4" y1="5.5" x2="881.4" y2="17.5" stroke="#e0e3eb" stroke-width="1"/>
<text x="128.0" y="15.0" font-family="Liberation Sans" font-size="9.2" font-weight="normal" fill="#131722" textLength="15.0" lengthAdjust="spacingAndGlyphs">15m</text>
<path d="M161.5 8.5 h2.5 v7.5 h-2.5 z M166.8 6 h2.5 v4.5 h-2.5 z M162.75 6.5 v2 M168 10.5 v1.5" fill="none" stroke="#2a2e39" stroke-width="1" stroke-linecap="round" stroke-linejoin="round" />
<path d="M180.2 8 h2.6 v7 h-2.6 z M185.4 9 h2.6 v4.5 h-2.6 z M181.5 5.5 v2.5 M181.5 15 v2.5 M186.7 6.5 v2.5 M186.7 13.5 v2.5" fill="none" stroke="#2962ff" stroke-width="1"/>
<path d="M197.8 10.6 l2.4 2.2 l2.4 -2.2" fill="none" stroke="#2a2e39" stroke-width="1" stroke-linecap="round" stroke-linejoin="round" />
<path d="M218.3 16.8 h10.8 M219 16.5 v-3 M221.8 16.5 v-4.5 M224.6 16.5 v-3 M227.4 16.5 v-5 M218.5 11.5 l3.3 -3.5 l3 2.5 l4.3 -4" fill="none" stroke="#2a2e39" stroke-width="1" stroke-linecap="round" stroke-linejoin="round" />
<text x="233.4" y="14.8" font-family="Liberation Sans" font-size="9.9" font-weight="normal" fill="#131722" textLength="37.5" lengthAdjust="spacingAndGlyphs">Indicators</text>
<path d="M280.2 10.6 l2.6 2.4 l2.6 -2.4" fill="none" stroke="#2a2e39" stroke-width="1" stroke-linecap="round" stroke-linejoin="round" />
<rect x="295.2" y="6.2" width="4.6" height="4.6" rx="1.8" fill="none" stroke="#131722" stroke-width="0.9"/>
<rect x="301.2" y="6.2" width="4.6" height="4.6" rx="1.8" fill="none" stroke="#131722" stroke-width="0.9"/>
<rect x="295.2" y="12.2" width="4.6" height="4.6" rx="1.8" fill="none" stroke="#131722" stroke-width="0.9"/>
<rect x="301.2" y="12.2" width="4.6" height="4.6" rx="1.8" fill="none" stroke="#131722" stroke-width="0.9"/>
<path d="M328.5 7.5 a5 5 0 1 0 1.5 9.7 M328.3 9.8 v2.6 l1.6 1 M323.5 8.2 l2 -2 M331 6 l2.2 1.8 M332.5 13 v5 M330 15.5 h5" fill="none" stroke="#2a2e39" stroke-width="1" stroke-linecap="round" stroke-linejoin="round" />
<text x="339.0" y="15.0" font-family="Liberation Sans" font-size="9.9" font-weight="normal" fill="#131722" textLength="18.5" lengthAdjust="spacingAndGlyphs">Alert</text>
<path d="M375.8 7.9 l-4.3 3.8 l4.3 3.8 z M380.4 7.9 l-4.3 3.8 l4.3 3.8 z" fill="none" stroke="#2a2e39" stroke-width="1" stroke-linecap="round" stroke-linejoin="round" />
<text x="385.6" y="15.0" font-family="Liberation Sans" font-size="9.9" font-weight="normal" fill="#131722" textLength="25.0" lengthAdjust="spacingAndGlyphs">Replay</text>
<path d="M431.2 8.3 l-2 2 l2 2 M429.5 10.3 h4.5 a3.5 3.5 0 0 1 3.5 3.5 v0.7" fill="none" stroke="#2a2e39" stroke-width="1" stroke-linecap="round" stroke-linejoin="round" />
<path d="M458.8 8.3 l2 2 l-2 2 M460.5 10.3 h-4.5 a3.5 3.5 0 0 0 -3.5 3.5 v0.7" fill="none" stroke="#c8cbd3" stroke-width="1" stroke-linecap="round" stroke-linejoin="round"/>
<rect x="806.5" y="7.2" width="11" height="9.6" rx="1" fill="none" stroke="#131722" stroke-width="1.1"/>
<text x="826.6" y="12.0" font-family="Liberation Sans" font-size="9.3" font-weight="normal" fill="#131722" textLength="36.0" lengthAdjust="spacingAndGlyphs">Unnamed</text>
<text x="838.0" y="18.7" font-family="Liberation Sans" font-size="6.6" font-weight="normal" fill="#2962ff" textLength="13.2" lengthAdjust="spacingAndGlyphs">Save</text>
<path d="M870.2 10.8 l2.3 2.2 l2.3 -2.2" fill="none" stroke="#2a2e39" stroke-width="1" stroke-linecap="round" stroke-linejoin="round" />
<path d="M895 6.8 a5.2 5.2 0 1 0 3.6 1.5 M898.8 12.2 l3 3.5 M894.5 8 l-1.8 3.3 h2.5 l-1.3 3" fill="none" stroke="#2a2e39" stroke-width="1" stroke-linecap="round" stroke-linejoin="round" />
<g transform="translate(918.6,11.7) scale(0.74)"><path d="M-1.2 -6 h2.4 l0.4 1.6 l1.5 0.7 l1.5 -0.8 l1.7 1.7 l-0.8 1.5 l0.7 1.5 l1.6 0.4 v2.4 l-1.6 0.4 l-0.7 1.5 l0.8 1.5 l-1.7 1.7 l-1.5 -0.8 l-1.5 0.7 l-0.4 1.6 h-2.4 l-0.4 -1.6 l-1.5 -0.7 l-1.5 0.8 l-1.7 -1.7 l0.8 -1.5 l-0.7 -1.5 l-1.6 -0.4 v-2.4 l1.6 -0.4 l0.7 -1.5 l-0.8 -1.5 l1.7 -1.7 l1.5 0.8 l1.5 -0.7 z" fill="none" stroke="#131722" stroke-width="1" stroke-linejoin="round"/><circle r="2" fill="none" stroke="#131722" stroke-width="1"/></g>
<path d="M936.8 9.5 v-2.6 h2.6 M944.2 6.9 h2.6 v2.6 M946.8 14 v2.6 h-2.6 M939.4 16.6 h-2.6 v-2.6" fill="none" stroke="#2a2e39" stroke-width="1" stroke-linecap="round" stroke-linejoin="round" />
<path d="M958.5 9 h2.8 l1.3 -1.8 h3.8 l1.3 1.8 h2.8 v7.8 h-12 z" fill="none" stroke="#2a2e39" stroke-width="1" stroke-linecap="round" stroke-linejoin="round" />
<circle cx="964.5" cy="12.6" r="2.5" fill="none" stroke="#131722" stroke-width="1"/>
<rect x="979.2" y="2.7" width="41.1" height="17.4" rx="8.7" fill="#2962ff"/>
<text x="986.5" y="14.7" font-family="Liberation Sans" font-size="9.3" font-weight="normal" fill="#fff" textLength="27.0" lengthAdjust="spacingAndGlyphs">Publish</text>
<circle cx="44.2" cy="36.7" r="2.2" fill="#f5821f"/><circle cx="44.2" cy="36.7" r="1" fill="#f9c23c"/>
<path d="M45.2 33.4 a3.6 3.6 0 0 1 5.3 3.6" fill="none" stroke="#0c8f8a" stroke-width="2"/>
<text x="53.0" y="39.1" font-family="Liberation Sans" font-size="9.6" font-weight="normal" fill="#131722" textLength="132.5" lengthAdjust="spacingAndGlyphs">Luna  /  TetherUS · 15 · BINANCE</text>
<circle cx="200.6" cy="35.5" r="4.4" fill="#d3efe9"/><circle cx="200.6" cy="35.5" r="2.4" fill="#089981"/>
<text x="215.8" y="38.7" font-family="Liberation Sans" font-size="8.4" font-weight="normal" fill="#131722" textLength="5.3" lengthAdjust="spacingAndGlyphs">O</text>
<text x="221.5" y="38.7" font-family="Liberation Sans" font-size="8.4" font-weight="normal" fill="#089981" textLength="25.0" lengthAdjust="spacingAndGlyphs">0.4156</text>
<text x="250.3" y="38.7" font-family="Liberation Sans" font-size="8.4" font-weight="normal" fill="#131722" textLength="5.3" lengthAdjust="spacingAndGlyphs">H</text>
<text x="256.3" y="38.7" font-family="Liberation Sans" font-size="8.4" font-weight="normal" fill="#089981" textLength="25.0" lengthAdjust="spacingAndGlyphs">0.4161</text>
<text x="282.8" y="38.7" font-family="Liberation Sans" font-size="8.4" font-weight="normal" fill="#131722" textLength="4.6" lengthAdjust="spacingAndGlyphs">L</text>
<text x="287.7" y="38.7" font-family="Liberation Sans" font-size="8.4" font-weight="normal" fill="#089981" textLength="25.0" lengthAdjust="spacingAndGlyphs">0.4156</text>
<text x="316.2" y="38.7" font-family="Liberation Sans" font-size="8.4" font-weight="normal" fill="#131722" textLength="5.3" lengthAdjust="spacingAndGlyphs">C</text>
<text x="321.5" y="38.7" font-family="Liberation Sans" font-size="8.4" font-weight="normal" fill="#089981" textLength="25.0" lengthAdjust="spacingAndGlyphs">0.4157</text>
<text x="347.5" y="38.7" font-family="Liberation Sans" font-size="8.4" font-weight="normal" fill="#089981" textLength="60.0" lengthAdjust="spacingAndGlyphs">+0.0001 (+0.02%)</text>
<rect x="39.8" y="45.7" width="32.5" height="13.5" rx="2" fill="#fff" stroke="#f23645" stroke-width="1"/>
<text x="45.5" y="55.5" font-family="Liberation Sans" font-size="8.4" font-weight="normal" fill="#f23645" textLength="21.5" lengthAdjust="spacingAndGlyphs">0.4157</text>
<text x="77.0" y="55.1" font-family="Liberation Sans" font-size="7.2" font-weight="normal" fill="#131722" textLength="19.9" lengthAdjust="spacingAndGlyphs">0.0001</text>
<rect x="102.7" y="45.7" width="32.5" height="13.5" rx="2" fill="#fff" stroke="#2962ff" stroke-width="1"/>
<text x="108.4" y="55.5" font-family="Liberation Sans" font-size="8.4" font-weight="normal" fill="#2962ff" textLength="21.5" lengthAdjust="spacingAndGlyphs">0.4158</text>
<text x="39.7" y="72.7" font-family="Liberation Sans" font-size="8.3" font-weight="normal" fill="#b2b5be" textLength="56.3" lengthAdjust="spacingAndGlyphs">ATR on Chart 30</text>
<path d="M102.5 69.8 q4.8 -5 9.6 0 q-4.8 5 -9.6 0 z M104 73 l7 -6.5" fill="none" stroke="#131722" stroke-width="0.9"/><circle cx="107.3" cy="69.8" r="1.6" fill="none" stroke="#131722" stroke-width="0.9"/>
<rect x="38.5" y="79" width="121" height="10" fill="#fff"/>
<text x="39.6" y="86.9" font-family="Liberation Sans" font-size="8.3" font-weight="normal" fill="#131722" textLength="41.0" lengthAdjust="spacingAndGlyphs">SSL channel</text>
<text x="83.7" y="86.9" font-family="Liberation Sans" font-size="8.3" font-weight="normal" fill="#6a6d78" textLength="18.5" lengthAdjust="spacingAndGlyphs">13 13</text>
<text x="107.5" y="86.9" font-family="Liberation Sans" font-size="8.3" font-weight="normal" fill="#f7a21b" textLength="23.2" lengthAdjust="spacingAndGlyphs">0.4187</text>
<text x="135.0" y="86.9" font-family="Liberation Sans" font-size="8.3" font-weight="normal" fill="#4a9e4c" textLength="23.4" lengthAdjust="spacingAndGlyphs">0.4178</text>
<rect x="40" y="93" width="17" height="12.5" rx="2" fill="#fff" stroke="#e0e3eb" stroke-width="1"/>
<path d="M46.3 100.2 l2.2 -2 l2.2 2" fill="none" stroke="#2a2e39" stroke-width="1" stroke-linecap="round" stroke-linejoin="round" stroke-width="1.3"/>
<path d="M16.3 33.2 v4.9 M16.3 42.7 v4.9 M8.9 40.4 h4.9 M18.2 40.4 h4.8" stroke="#2962ff" stroke-width="1.2" fill="none"/>
<path d="M11.2 66.2 L20.1 58" fill="none" stroke="#2a2e39" stroke-width="1" stroke-linecap="round" stroke-linejoin="round" />
<circle cx="10.3" cy="67.1" r="1.3" fill="none" stroke="#131722" stroke-width="0.9"/><circle cx="21" cy="57.1" r="1.3" fill="none" stroke="#131722" stroke-width="0.9"/>
<path d="M9 78.5 h13.5 M9 82.1 h12 M9 85.6 h13.5 M10.9 89.2 h11.6" fill="none" stroke="#2a2e39" stroke-width="1" stroke-linecap="round" stroke-linejoin="round" />
<circle cx="22.5" cy="82.1" r="1.3" fill="#fff" stroke="#131722" stroke-width="0.9"/><circle cx="9.5" cy="89.2" r="1.3" fill="#fff" stroke="#131722" stroke-width="0.9"/>
<path d="M12.3 100.6 L10 110.9 L19.3 101.4 L21.5 109.8 L12.3 100.6 M10 110.9 L21.5 109.8" fill="none" stroke="#2a2e39" stroke-width="1" stroke-linecap="round" stroke-linejoin="round" />
<circle cx="12.3" cy="100.6" r="1.2" fill="#fff" stroke="#131722" stroke-width="0.9"/>
<circle cx="19.3" cy="101.4" r="1.2" fill="#fff" stroke="#131722" stroke-width="0.9"/>
<circle cx="10" cy="110.9" r="1.2" fill="#fff" stroke="#131722" stroke-width="0.9"/>
<circle cx="21.5" cy="109.8" r="1.2" fill="#fff" stroke="#131722" stroke-width="0.9"/>
<path d="M11.3 123.1 h10.2 M11.3 127.5 h9 M11.3 132.6 h10.2 M14 129.8 h0.5 M17 130.5 h0.5" fill="none" stroke="#2a2e39" stroke-width="1" stroke-linecap="round" stroke-linejoin="round" />
<circle cx="10" cy="123.1" r="1.2" fill="#fff" stroke="#131722" stroke-width="0.9"/>
<circle cx="10" cy="127.5" r="1.2" fill="#fff" stroke="#131722" stroke-width="0.9"/>
<circle cx="21.5" cy="127.5" r="1.2" fill="#fff" stroke="#131722" stroke-width="0.9"/>
<circle cx="10" cy="132.6" r="1.2" fill="#fff" stroke="#131722" stroke-width="0.9"/>
<path d="M9.2 155.2 c1 -4 3 -6.5 6.5 -6.5 c1.5 0.8 2 2.3 1.5 3.5 c-2 2.2 -5 3 -8 3 z M17 149.5 l2.5 2 l4 -5" fill="none" stroke="#2a2e39" stroke-width="1" stroke-linecap="round" stroke-linejoin="round" />
<text x="15.7" y="177.4" text-anchor="middle" font-family="Liberation Serif" font-size="14.5" fill="#131722">T</text>
<circle cx="15.7" cy="194.1" r="6.9" fill="none" stroke="#131722" stroke-width="1"/>
<path d="M12.8 195.8 q2.9 2.6 5.8 0 M13.6 192.3 v0.6 M17.8 192.3 v0.6" fill="none" stroke="#2a2e39" stroke-width="1" stroke-linecap="round" stroke-linejoin="round" stroke-width="1.1"/>
<line x1="5" y1="207.9" x2="26.5" y2="207.9" stroke="#e0e3eb" stroke-width="1"/>
<line x1="5" y1="260.7" x2="26.5" y2="260.7" stroke="#e0e3eb" stroke-width="1"/>
<line x1="5" y1="356.4" x2="26.5" y2="356.4" stroke="#e0e3eb" stroke-width="1"/>
<g transform="translate(15.75,223.6) rotate(-40)"><rect x="-8.3" y="-2.4" width="16.6" height="4.8" rx="0.6" fill="none" stroke="#131722" stroke-width="1"/><path d="M-5.5 -2.4 v2 M-3 -2.4 v1.3 M-0.5 -2.4 v2 M2 -2.4 v1.3 M4.5 -2.4 v2" stroke="#131722" stroke-width="0.8"/></g>
<circle cx="14.2" cy="244.3" r="5" fill="none" stroke="#131722" stroke-width="1"/>
<path d="M14.2 241.9 v4.8 M11.8 244.3 h4.8 M17.8 248 l3 3" fill="none" stroke="#2a2e39" stroke-width="1" stroke-linecap="round" stroke-linejoin="round" />
<path d="M11.4 280.9 v-5.8 a5 5 0 0 1 10 0 v5.8 h-3 v-5.8 a2 2 0 0 0 -4 0 v5.8 z M11.4 278.2 h3 M18.4 278.2 h3" fill="none" stroke="#2a2e39" stroke-width="1" stroke-linecap="round" stroke-linejoin="round" />
<path d="M9.5 300 l8.3 -8.5 l2 2 l-8.3 8.5 l-2.6 0.6 z M16.5 292.8 l2 2" fill="none" stroke="#2a2e39" stroke-width="1" stroke-linecap="round" stroke-linejoin="round" />
<rect x="17.7" y="299" width="4.9" height="4.4" rx="0.5" fill="#fff" stroke="#131722" stroke-width="0.9"/>
<path d="M18.7 299 v-1.3 a1.6 1.6 0 0 1 3.2 0" fill="none" stroke="#2a2e39" stroke-width="1" stroke-linecap="round" stroke-linejoin="round" />
<rect x="10.7" y="317.5" width="10.7" height="8" rx="1" fill="none" stroke="#131722" stroke-width="1"/>
<path d="M13 317.5 v-3.2 a3 3 0 0 1 6 -0.5 M16 321.2 v1.2" fill="none" stroke="#2a2e39" stroke-width="1" stroke-linecap="round" stroke-linejoin="round" />
<path d="M9.5 338.7 q6.5 -8 13 0 q-6.5 8 -13 0 z" fill="none" stroke="#2a2e39" stroke-width="1" stroke-linecap="round" stroke-linejoin="round" />
<circle cx="16" cy="338.7" r="2.2" fill="none" stroke="#131722" stroke-width="1"/>
<path d="M17.8 345 l4.5 -3.5 M19 342.5 l1.8 1.5" fill="none" stroke="#2a2e39" stroke-width="1" stroke-linecap="round" stroke-linejoin="round" stroke-width="0.9"/>
<path d="M10.7 367.8 h10.7 M14 367.8 v-1.9 h4.1 v1.9 M12 367.8 l0.7 10.5 h6.7 l0.7 -10.5 M14.6 370.5 v5.5 M17.5 370.5 v5.5" fill="none" stroke="#2a2e39" stroke-width="1" stroke-linecap="round" stroke-linejoin="round" />
<rect x="1003.6" y="33.5" width="14" height="12.6" rx="1.6" fill="none" stroke="#131722" stroke-width="1"/>
<path d="M1006 36.5 h9 M1006 38.7 h9 M1006 41.2 h9 M1006 43.5 h9" fill="none" stroke="#2a2e39" stroke-width="1" stroke-linecap="round" stroke-linejoin="round" />
<circle cx="1010.5" cy="68.2" r="5.8" fill="none" stroke="#131722" stroke-width="1"/>
<path d="M1010.5 65 v3.5 h2.3 M1004.5 63.5 l2.2 -2.2 M1016.5 63.5 l-2.2 -2.2 M1006.3 73.5 l-1.5 1.6 M1014.7 73.5 l1.5 1.6" fill="none" stroke="#2a2e39" stroke-width="1" stroke-linecap="round" stroke-linejoin="round" />
<path d="M1006 91.5 h11.5 v9.5 h-11.5 z M1008.3 94.5 h7 M1008.3 96.5 h7 M1008.3 98.5 h7 M1004.5 87.5 v4.5 M1002.3 89.7 h4.5" fill="none" stroke="#2a2e39" stroke-width="1" stroke-linecap="round" stroke-linejoin="round" />
<path d="M1009.5 130.8 c-3.5 0 -5.5 -2.5 -5.5 -5.3 c0 -3 2 -4.5 3 -7 c1 1 1.2 2.2 1.3 3 c1.3 -2 2.2 -3.8 2 -6.3 c3 2 6 5.3 6 9.8 c0 3.3 -2.5 5.8 -6.8 5.8 z" fill="none" stroke="#2a2e39" stroke-width="1" stroke-linecap="round" stroke-linejoin="round" />
<rect x="1003.8" y="145.2" width="13.6" height="13" rx="1.5" fill="none" stroke="#131722" stroke-width="1"/>
<circle cx="1007" cy="148.5" r="0.85" fill="#131722"/>
<circle cx="1007" cy="151.7" r="0.85" fill="#131722"/>
<circle cx="1007" cy="154.9" r="0.85" fill="#131722"/>
<circle cx="1010.5" cy="148.5" r="0.85" fill="#131722"/>
<circle cx="1010.5" cy="151.7" r="0.85" fill="#131722"/>
<circle cx="1010.5" cy="154.9" r="0.85" fill="#131722"/>
<circle cx="1014" cy="148.5" r="0.85" fill="#131722"/>
<circle cx="1014" cy="151.7" r="0.85" fill="#131722"/>
<circle cx="1014" cy="154.9" r="0.85" fill="#131722"/>
<path d="M1007.8 184.5 v-1.5 c-2 -1.5 -3 -3.3 -3 -5.3 a5.7 5.7 0 0 1 11.4 0 c0 2 -1 3.8 -3 5.3 v1.5 z M1008.5 186.5 h4 M1009 188.5 h3" fill="none" stroke="#2a2e39" stroke-width="1" stroke-linecap="round" stroke-linejoin="round" />
<line x1="1002" y1="196.9" x2="1019" y2="196.9" stroke="#e0e3eb" stroke-width="1"/>
<path d="M1004.5 218.5 c-2 -0.5 -2.3 -4 0 -4.8 c-0.5 -3 3 -4.5 5 -3 c2 -2.5 6.5 -1.5 7 1.5 c3 0.3 3 4.5 0.5 5.5 c0 1.5 -1.5 1.8 -2.5 1.5 z M1007.5 214 h6 M1008 216 h4.5" fill="none" stroke="#2a2e39" stroke-width="1" stroke-linecap="round" stroke-linejoin="round" />
<circle cx="1016.5" cy="220.5" r="0.9" fill="none" stroke="#131722" stroke-width="0.8"/>
<path d="M1003.6 234.8 h12 v9.5 h-7 l-3 2.8 v-2.8 h-2 z M1006.3 238 h6.5 M1006.3 240.8 h4.5 M1015.6 238.5 h1.8 v9.5 v1.5 l-2.5 -2 h-6" fill="none" stroke="#2a2e39" stroke-width="1" stroke-linecap="round" stroke-linejoin="round" />
<path d="M1008 274.5 v-1.3 c-1.7 -1.3 -2.6 -2.8 -2.6 -4.6 a5 5 0 0 1 10 0 c0 1.8 -0.9 3.3 -2.6 4.6 v1.3 z M1008.7 276.3 h3.6 M1003.5 265 q-1.8 3.7 0 7.3 M1001.5 263.5 q-2.6 5.2 0 10.4 M1017.5 265 q1.8 3.7 0 7.3 M1019.5 263.5 q2.6 5.2 0 10.4" fill="none" stroke="#2a2e39" stroke-width="1" stroke-linecap="round" stroke-linejoin="round" />
<path d="M1004.3 291.3 q-2.6 4.7 0 9.4 M1002 289.5 q-3.8 6.5 0 13 M1016.7 291.3 q2.6 4.7 0 9.4 M1019 289.5 q3.8 6.5 0 13 M1008.8 293.3 v5.4 l4.5 -2.7 z" fill="none" stroke="#2a2e39" stroke-width="1" stroke-linecap="round" stroke-linejoin="round" />
<path d="M1005.2 328.5 h10.6 l-1.5 -2 v-4.5 a3.8 3.8 0 0 0 -7.6 0 v4.5 z M1009 330.5 q1.5 1.5 3 0 M1010.5 317 v1.2" fill="none" stroke="#2a2e39" stroke-width="1" stroke-linecap="round" stroke-linejoin="round" />
<path d="M1010.5 518.5 l7.3 4.2 l-7.3 4.2 l-7.3 -4.2 z M1003.2 525.5 l7.3 4.2 l7.3 -4.2 M1003.2 528.2 l7.3 4.2 l7.3 -4.2" fill="none" stroke="#2a2e39" stroke-width="1" stroke-linecap="round" stroke-linejoin="round" />
<circle cx="1010.2" cy="553.9" r="7.6" fill="none" stroke="#131722" stroke-width="1"/>
<path d="M1007.8 551.5 a2.4 2.4 0 1 1 3.6 2 c-0.8 0.5 -1.2 1 -1.2 2 v0.5" fill="none" stroke="#2a2e39" stroke-width="1" stroke-linecap="round" stroke-linejoin="round" />
<circle cx="1010.2" cy="558.5" r="0.8" fill="#131722"/>
<text x="43.2" y="534.2" font-family="Liberation Sans" font-size="8.4" font-weight="normal" fill="#131722" textLength="9.0" lengthAdjust="spacingAndGlyphs">1D</text>
<text x="59.9" y="534.2" font-family="Liberation Sans" font-size="8.4" font-weight="normal" fill="#131722" textLength="8.7" lengthAdjust="spacingAndGlyphs">5D</text>
<text x="77.2" y="534.2" font-family="Liberation Sans" font-size="8.4" font-weight="normal" fill="#131722" textLength="10.1" lengthAdjust="spacingAndGlyphs">1M</text>
<text x="94.8" y="534.2" font-family="Liberation Sans" font-size="8.4" font-weight="normal" fill="#131722" textLength="10.2" lengthAdjust="spacingAndGlyphs">3M</text>
<text x="112.3" y="534.2" font-family="Liberation Sans" font-size="8.4" font-weight="normal" fill="#131722" textLength="10.7" lengthAdjust="spacingAndGlyphs">6M</text>
<text x="130.4" y="534.2" font-family="Liberation Sans" font-size="8.4" font-weight="normal" fill="#131722" textLength="15.0" lengthAdjust="spacingAndGlyphs">YTD</text>
<text x="153.4" y="534.2" font-family="Liberation Sans" font-size="8.4" font-weight="normal" fill="#131722" textLength="8.6" lengthAdjust="spacingAndGlyphs">1Y</text>
<text x="169.7" y="534.2" font-family="Liberation Sans" font-size="8.4" font-weight="normal" fill="#131722" textLength="8.6" lengthAdjust="spacingAndGlyphs">5Y</text>
<text x="185.8" y="534.2" font-family="Liberation Sans" font-size="8.4" font-weight="normal" fill="#131722" textLength="10.1" lengthAdjust="spacingAndGlyphs">All</text>
<line x1="202.8" y1="525" x2="202.8" y2="537" stroke="#e0e3eb" stroke-width="1"/>
<path d="M211.5 527 h11 v9.5 h-3.5 M211.5 527 v4 M214.5 525.5 v3 M219.5 525.5 v3 M211 533.5 h5 l-1.5 -1.5 M216 533.5 l-1.5 1.5" fill="none" stroke="#2a2e39" stroke-width="1" stroke-linecap="round" stroke-linejoin="round" />
<text x="933.0" y="534.3" font-family="Liberation Sans" font-size="8.6" font-weight="normal" fill="#131722" textLength="57.0" lengthAdjust="spacingAndGlyphs">05:54:11 (UTC)</text>
<text x="43.8" y="560.0" font-family="Liberation Sans" font-size="9.1" font-weight="normal" fill="#131722" textLength="56.2" lengthAdjust="spacingAndGlyphs">Stock Screener</text>
<path d="M108.3 555.6 l2.2 2 l2.2 -2" fill="none" stroke="#2a2e39" stroke-width="1" stroke-linecap="round" stroke-linejoin="round" />
<text x="128.2" y="560.0" font-family="Liberation Sans" font-size="9.1" font-weight="normal" fill="#131722" textLength="41.5" lengthAdjust="spacingAndGlyphs">Pine Editor</text>
<text x="189.0" y="560.0" font-family="Liberation Sans" font-size="9.1" font-weight="normal" fill="#131722" textLength="57.4" lengthAdjust="spacingAndGlyphs">Strategy Tester</text>
<text x="266.8" y="560.0" font-family="Liberation Sans" font-size="9.1" font-weight="normal" fill="#131722" textLength="50.5" lengthAdjust="spacingAndGlyphs">Trading Panel</text>
<path d="M955.8 558 l5.2 -4.6 l5.2 4.6" fill="none" stroke="#2a2e39" stroke-width="1" stroke-linecap="round" stroke-linejoin="round" />
<path d="M977.3 554.5 v-1.5 q0 -1.2 1.2 -1.2 h8.3 q1.2 0 1.2 1.2 v1.5 M987.9 559 v1.5 q0 1.2 -1.2 1.2 h-8.3 q-1.2 0 -1.2 -1.2 v-1.5" fill="none" stroke="#2a2e39" stroke-width="1" stroke-linecap="round" stroke-linejoin="round" />
<path d="M41.4 484.4 h9.6 v8.8 h-4.5 v-4.3 h-5.1 z" fill="#131722"/>
<circle cx="52.3" cy="486.2" r="1.5" fill="#131722"/>
<path d="M55.2 484.4 h4.1 l-3.6 8.8 h-4.3 z" fill="#131722"/>
<text x="64.1" y="493.2" font-family="Liberation Sans" font-size="12.6" fill="#131722" stroke="#131722" stroke-width="0.45" textLength="73.1" lengthAdjust="spacingAndGlyphs">TradingView</text>
<rect x="936.8" y="468.6" width="14.5" height="13.4" rx="2" fill="#fff" filter="url(#sh)"/>
<path d="M941 472.7 l2.5 2.6 l-2.5 2.6 M944.3 472.7 l2.5 2.6 l-2.5 2.6" fill="none" stroke="#2a2e39" stroke-width="1" stroke-linecap="round" stroke-linejoin="round" stroke-width="1.1"/>
<path d="M975 509 l3.2 -1.9 l3.2 1.9 v3.6 l-3.2 1.9 l-3.2 -1.9 z" fill="none" stroke="#2a2e39" stroke-width="1" stroke-linecap="round" stroke-linejoin="round" />
<circle cx="978.2" cy="510.8" r="1.2" fill="none" stroke="#131722" stroke-width="0.9"/>
</svg>
</body></html>
